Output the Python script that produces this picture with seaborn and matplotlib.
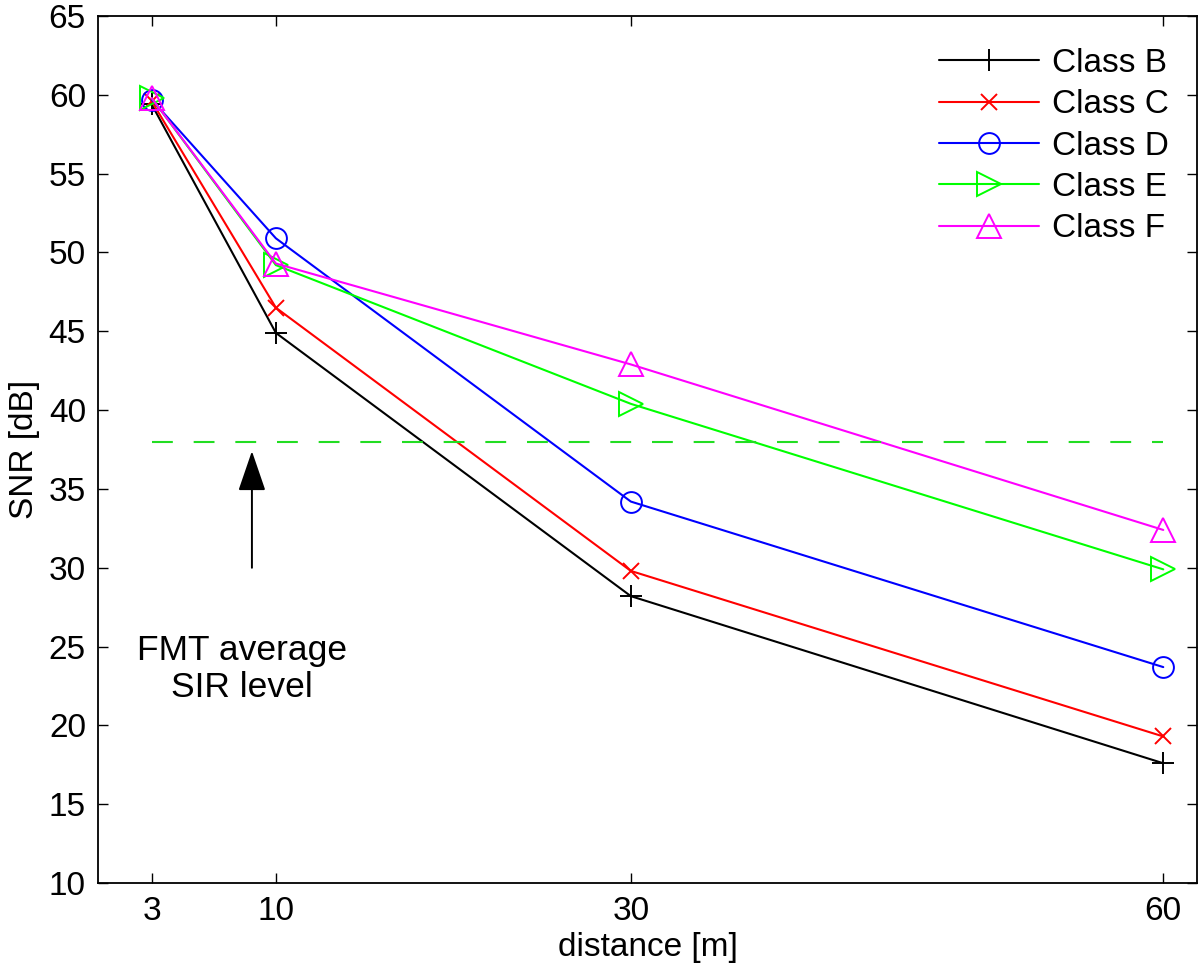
import pandas as pd
import matplotlib
matplotlib.use("Agg")
import matplotlib.pyplot as plt
import seaborn as sns

# data
distance = [3, 10, 30, 60]
class_b = [59.4, 44.9, 28.2, 17.6]
class_c = [59.6, 46.5, 29.8, 19.3]
class_d = [59.7, 50.9, 34.2, 23.7]
class_e = [59.8, 49.2, 40.4, 29.9]
class_f = [59.8, 49.3, 42.9, 32.4]
class_names = ["Class B", "Class C", "Class D", "Class E", "Class F"]
sir_level = 38

series = [class_b, class_c, class_d, class_e, class_f]
colors = ["black", "red", "blue", "#00ff00", "magenta"]
markers = ["+", "x", "o", ">", "^"]
msizes = [16, 11, 15, 17, 17]

sns.set_theme(style="ticks")
plt.rcParams["font.family"] = ["Liberation Sans", "DejaVu Sans"]
plt.rcParams["text.color"] = "black"
plt.rcParams["axes.labelcolor"] = "black"
plt.rcParams["xtick.color"] = "black"
plt.rcParams["ytick.color"] = "black"

fs = 24

fig = plt.figure(figsize=(12, 9.72), dpi=100)
ax = fig.add_axes([0.082, 0.0915, 0.9155, 0.8920])

for name, vals, c, m, ms in zip(class_names, series, colors, markers, msizes):
    df = pd.DataFrame({"distance": distance, "snr": vals})
    sns.lineplot(data=df, x="distance", y="snr", ax=ax, color=c, marker=m,
                 markersize=ms, markerfacecolor="none", markeredgecolor=c,
                 markeredgewidth=1.4, linewidth=1.5, label=name)

# average SIR level
ax.plot([distance[0], distance[-1]], [sir_level, sir_level], color="#22dd22",
        linewidth=1.5, dashes=(10, 10))
ax.annotate("", xy=(8.65, 37.4), xytext=(8.65, 30.0),
            arrowprops=dict(arrowstyle="-|>,head_length=2.1,head_width=0.72",
                            color="black", lw=1.4, shrinkA=0, shrinkB=0))
ax.text(8.1, 23.6, "FMT average\nSIR level", ha="center", va="center",
        fontsize=25.5, linespacing=1.15)

ax.set_xlim(0, 61.9)
ax.set_ylim(10, 65)
ax.set_xticks(distance)
ax.set_yticks(range(10, 66, 5))
ax.tick_params(direction="in", top=True, right=True, length=7, width=1,
               labelsize=fs, pad=9, color="black")
for s in ax.spines.values():
    s.set_linewidth(1.3)
    s.set_color("black")
ax.set_xlabel("distance [m]", fontsize=fs, labelpad=4)
ax.set_ylabel("SNR [dB]", fontsize=fs, labelpad=6)

leg = ax.legend(loc="upper right", frameon=False, fontsize=fs, handlelength=3.0,
                labelspacing=0.31, handletextpad=0.4, borderaxespad=0.3,
                bbox_to_anchor=(0.996, 0.99))

plt.savefig("out.png", dpi=100)
